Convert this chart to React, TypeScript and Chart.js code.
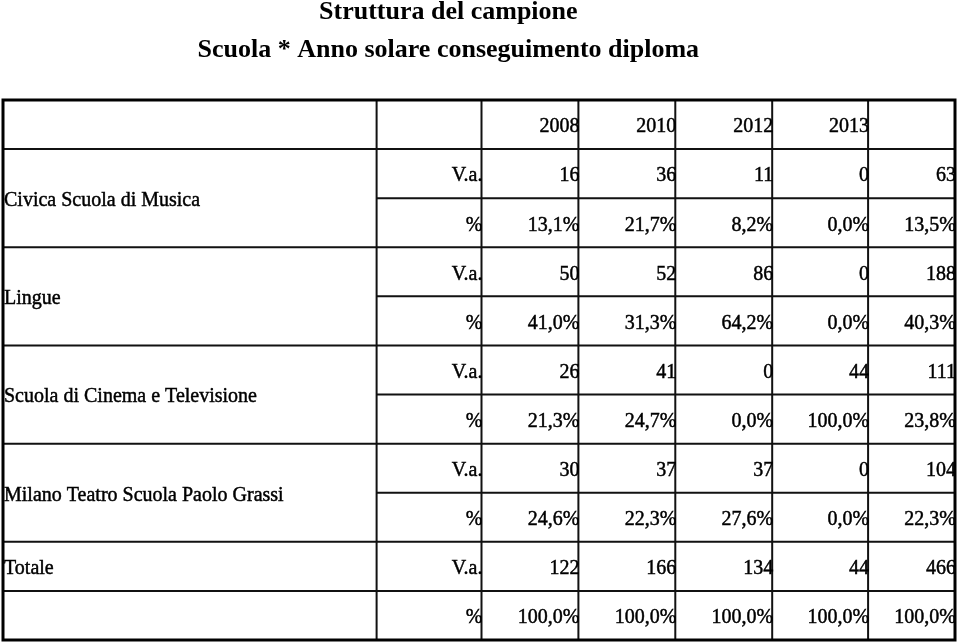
import React, { useEffect, useRef } from "react";
import { Chart, registerables } from "chart.js";

Chart.register(...registerables);

// ---- data ----
const TITLE_LINES = ["Struttura del campione", "Scuola * Anno solare conseguimento diploma"];
const YEARS = ["2008", "2010", "2012", "2013"];
const SCHOOLS = [
  "Civica Scuola di Musica",
  "Lingue",
  "Scuola di Cinema e Televisione",
  "Milano Teatro Scuola Paolo Grassi",
];
const MEASURES = ["V.a.", "%"];
const TOTAL_LABEL = "Totale";
const COUNTS_MUSICA = [16, 36, 11, 0, 63];
const COUNTS_LINGUE = [50, 52, 86, 0, 188];
const COUNTS_CINEMA = [26, 41, 0, 44, 111];
const COUNTS_TEATRO = [30, 37, 37, 0, 104];
const PCT_MUSICA = [13.1, 21.7, 8.2, 0.0, 13.5];
const PCT_LINGUE = [41.0, 31.3, 64.2, 0.0, 40.3];
const PCT_CINEMA = [21.3, 24.7, 0.0, 100.0, 23.8];
const PCT_TEATRO = [24.6, 22.3, 27.6, 0.0, 22.3];
const TOTAL_COUNTS = [122, 166, 134, 44, 466];
const TOTAL_PCT = [100.0, 100.0, 100.0, 100.0, 100.0];

const COUNTS = [COUNTS_MUSICA, COUNTS_LINGUE, COUNTS_CINEMA, COUNTS_TEATRO];
const PCTS = [PCT_MUSICA, PCT_LINGUE, PCT_CINEMA, PCT_TEATRO];

// ---- layout (not data) ----
const COL_UNITS = [374, 105, 97, 97, 97, 96, 87];
const N_ROWS = 11;
const FONT = '"Liberation Serif", "Times New Roman", serif';

const fmtPct = (v: number) => v.toFixed(1).replace(".", ",") + "%";

const tablePlugin = {
  id: "tablePlugin",
  afterDraw(chart: any) {
    const { ctx, scales } = chart;
    const xs = scales.x;
    const ys = scales.y;
    const edges: number[] = [0];
    COL_UNITS.forEach((w) => edges.push(edges[edges.length - 1] + w));
    const X = (v: number) => xs.getPixelForValue(v);
    const Y = (r: number) => ys.getPixelForValue(r);
    const totalUnits = edges[edges.length - 1];

    ctx.save();
    // title
    ctx.fillStyle = "#000";
    ctx.textAlign = "center";
    ctx.textBaseline = "alphabetic";
    ctx.font = `bold 26px ${FONT}`;
    const tx = chart.width * 0.467;
    ctx.fillText(TITLE_LINES[0], tx, 19);
    ctx.fillText(TITLE_LINES[1], tx, 57);

    // grid lines
    ctx.strokeStyle = "#111";
    ctx.lineWidth = 2;
    const hline = (r: number, fromEdge: number) => {
      ctx.beginPath();
      ctx.moveTo(X(edges[fromEdge]), Y(r));
      ctx.lineTo(X(totalUnits), Y(r));
      ctx.stroke();
    };
    hline(1, 0);
    for (let g = 0; g < SCHOOLS.length; g++) {
      hline(2 + 2 * g, 1);
      hline(3 + 2 * g, 0);
    }
    hline(10, 0);
    for (let c = 1; c < edges.length - 1; c++) {
      ctx.beginPath();
      ctx.moveTo(X(edges[c]), Y(0));
      ctx.lineTo(X(edges[c]), Y(N_ROWS));
      ctx.stroke();
    }
    ctx.lineWidth = 3;
    ctx.strokeStyle = "#000";
    ctx.strokeRect(X(0), Y(0), X(totalUnits) - X(0), Y(N_ROWS) - Y(0));

    // text
    ctx.font = `20px ${FONT}`;
    ctx.fillStyle = "#000";
    ctx.strokeStyle = "#000";
    ctx.lineWidth = 0.45;
    ctx.textBaseline = "middle";
    const mid = (r: number) => (Y(r) + Y(r + 1)) / 2 + 2;
    const put = (s: string, x: number, y: number) => {
      ctx.save();
      ctx.translate(x, y);
      ctx.scale(1, 1.1);
      ctx.fillText(s, 0, 0);
      ctx.strokeText(s, 0, 0);
      ctx.restore();
    };

    // header
    ctx.textAlign = "right";
    YEARS.forEach((yr, i) => put(yr, X(edges[i + 3]) + 1, mid(0)));

    const drawValues = (row: number, vals: (number | string)[]) => {
      ctx.textAlign = "right";
      vals.forEach((v, i) => put(String(v), X(edges[i + 3]) + 1, mid(row)));
    };

    SCHOOLS.forEach((name, g) => {
      const r0 = 1 + 2 * g;
      ctx.textAlign = "left";
      put(name, X(0) + 1, (Y(r0) + Y(r0 + 2)) / 2 + 2);
      ctx.textAlign = "right";
      put(MEASURES[0], X(edges[2]) + 1, mid(r0));
      put(MEASURES[1], X(edges[2]) + 1, mid(r0 + 1));
      drawValues(r0, COUNTS[g]);
      drawValues(r0 + 1, PCTS[g].map(fmtPct));
    });
    const rt = 1 + 2 * SCHOOLS.length;
    ctx.textAlign = "left";
    put(TOTAL_LABEL, X(0) + 1, mid(rt));
    ctx.textAlign = "right";
    put(MEASURES[0], X(edges[2]) + 1, mid(rt));
    put(MEASURES[1], X(edges[2]) + 1, mid(rt + 1));
    drawValues(rt, TOTAL_COUNTS);
    drawValues(rt + 1, TOTAL_PCT.map(fmtPct));
    ctx.restore();
  },
};

export default function App() {
  const ref = useRef<HTMLCanvasElement | null>(null);
  useEffect(() => {
    if (!ref.current) return;
    const total = COL_UNITS.reduce((a, b) => a + b, 0);
    const chart = new Chart(ref.current, {
      type: "scatter",
      data: { datasets: [] },
      options: {
        animation: false,
        responsive: true,
        maintainAspectRatio: false,
        layout: { padding: { top: 100, bottom: 3, left: 3, right: 5 } },
        scales: {
          x: { type: "linear", min: 0, max: total, display: false },
          y: { type: "linear", min: 0, max: N_ROWS, reverse: true, display: false },
        },
        plugins: { legend: { display: false }, tooltip: { enabled: false }, title: { display: false } },
      },
      plugins: [tablePlugin],
    } as any);
    return () => chart.destroy();
  }, []);
  return (
    <div style={{ position: "fixed", left: 0, top: 0, width: 960, height: 643, background: "#fff" }}>
      <canvas ref={ref} />
    </div>
  );
}
